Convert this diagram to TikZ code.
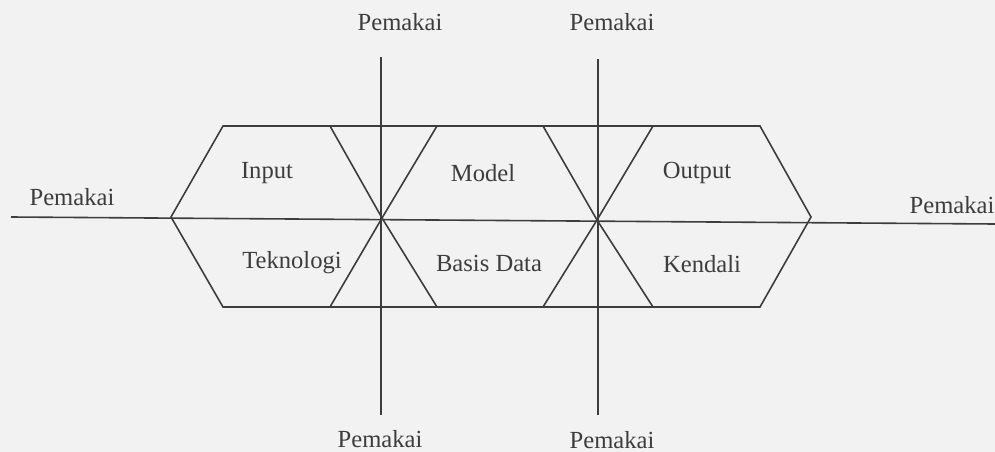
\documentclass[tikz,border=0pt]{standalone}
\usepackage{fontspec}
\setmainfont{Liberation Serif}
\begin{document}
\begin{tikzpicture}[x=1pt, y=-1pt, line width=1.6pt, color=black!76,
    every node/.style={inner sep=0pt, font=\fontsize{24.6}{29}\selectfont}]
    \useasboundingbox[fill=black!5] (0,0) rectangle (995,452);

    % corners of the three hexagons
    \coordinate (west) at (171,217);
    \coordinate (j1) at (382,218);
    \coordinate (j2) at (597,220);
    \coordinate (east) at (811,217);
    \coordinate (nw1) at (223,126); \coordinate (ne1) at (330,126);
    \coordinate (sw1) at (223,307); \coordinate (se1) at (330,307);
    \coordinate (nw2) at (437,126); \coordinate (ne2) at (543,126);
    \coordinate (sw2) at (437,307); \coordinate (se2) at (543,307);
    \coordinate (nw3) at (653,126); \coordinate (ne3) at (760,126);
    \coordinate (sw3) at (653,307); \coordinate (se3) at (760,307);

    % free ends of the user lines
    \coordinate (l-end) at (11,217);
    \coordinate (r-end) at (995,224);
    \coordinate (t1-end) at (381,57); \coordinate (b1-end) at (381,415);
    \coordinate (t2-end) at (598,59); \coordinate (b2-end) at (598,415);

    \draw (west) -- (nw1) -- (ne1) -- (j1) -- (se1) -- (sw1) -- cycle;
    \draw (j1) -- (nw2) -- (ne2) -- (j2) -- (se2) -- (sw2) -- cycle;
    \draw (j2) -- (nw3) -- (ne3) -- (east) -- (se3) -- (sw3) -- cycle;
    \draw (nw1) -- (ne3);
    \draw (sw1) -- (se3);

    \draw (l-end) -- (r-end);
    \draw (t1-end) -- (b1-end);
    \draw (t2-end) -- (b2-end);

    \node (input) at (267,173) {Input};
    \node (teknologi) at (292,263) {Teknologi};
    \node (model) at (483,173) {Model};
    \node (basisdata) at (489,263) {Basis Data};
    \node (output) at (697,173) {Output};
    \node (kendali) at (702,264) {Kendali};

    \node (pemakai-l) at (72,197) {Pemakai};
    \node (pemakai-r) at (952,205) {Pemakai};
    \node (pemakai-t1) at (400,22) {Pemakai};
    \node (pemakai-t2) at (612,22) {Pemakai};
    \node (pemakai-b1) at (380,439) {Pemakai};
    \node (pemakai-b2) at (612,440) {Pemakai};
\end{tikzpicture}
\end{document}
